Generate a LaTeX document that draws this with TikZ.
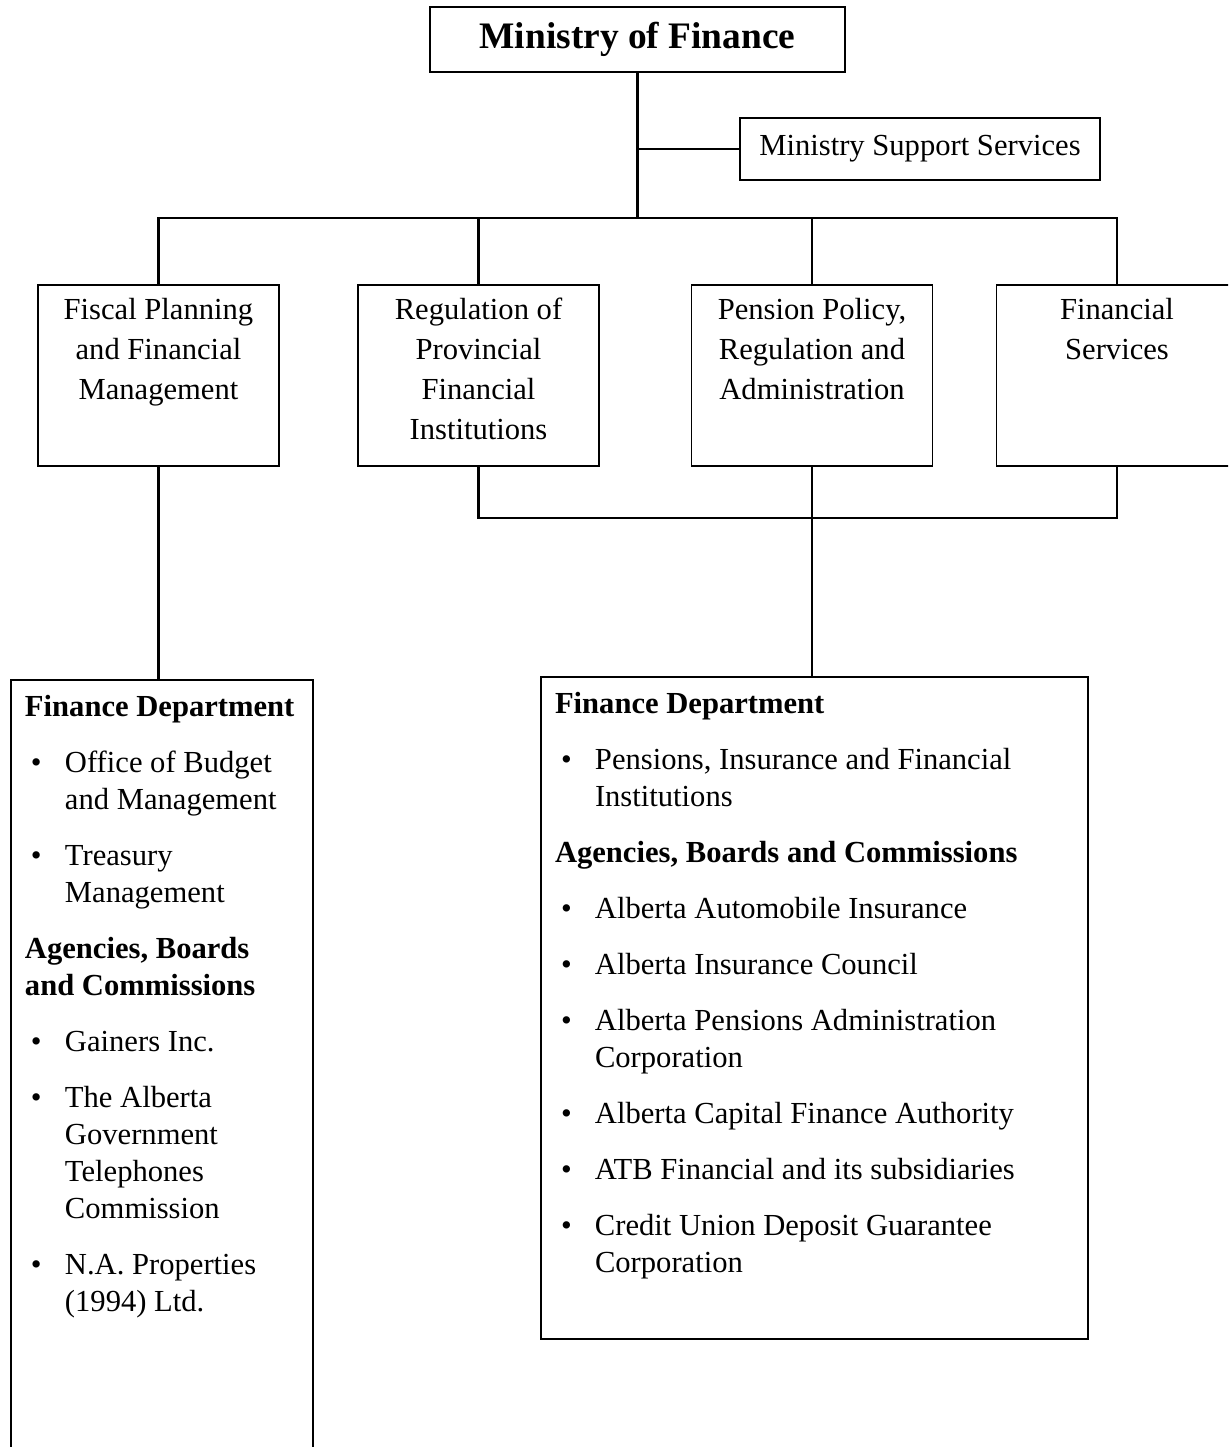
\documentclass[tikz,border=0pt]{standalone}
\usepackage{fontspec}
\setmainfont{Liberation Serif}
\newcommand{\orgtop}[1]{\rule{0pt}{#1}}
\newcommand{\orghead}[1]{\par\noindent\textbf{#1}\par}
\newcommand{\orgitem}[1]{\par\noindent\hangindent=20pt\hangafter=1\makebox[20pt][l]{\hspace{3pt}\textbullet}#1\par}
\newcommand{\unitbox}[1]{\parbox[c][90.5pt][t]{112.5pt}{\centering\orgtop{17pt}#1}}
\newcommand{\listbox}[3]{\parbox[c][#2][t]{#1}{\fontsize{15.3}{18.5}\selectfont\raggedright\parskip=9.5pt #3}}
\begin{document}
\begin{tikzpicture}[x=0.5pt, y=-0.5pt,
    unit/.style={draw, line width=0.6pt, inner xsep=4pt, inner ysep=0pt, outer sep=0pt, font=\fontsize{15.3}{20}\selectfont},
    listing/.style={draw, line width=0.6pt, inner xsep=7pt, inner ysep=0pt, outer sep=0pt},
    link/.style={line width=1.2pt}]
            \clip (0,0) rectangle (1228,1447);
            \node[draw, line width=0.6pt, minimum width=207.5pt, minimum height=32.5pt, outer sep=0pt, font=\fontsize{18.7}{22}\selectfont\bfseries] (fin) at (637.5,39.5) {Ministry of Finance};
            \node[draw, line width=0.6pt, minimum width=180pt, minimum height=31pt, outer sep=0pt, font=\fontsize{15.3}{20}\selectfont] (sup) at (920,149) {Ministry Support Services};
            \node[unit] (fis) at (158.5,375.5) {\unitbox{Fiscal Planning\\ and Financial\\ Management}};
            \node[unit] (reg) at (478.5,375.5) {\unitbox{Regulation of\\ Provincial\\ Financial\\ Institutions}};
            \node[unit] (pen) at (812,375.5) {\unitbox{Pension Policy,\\ Regulation and\\ Administration}};
            \node[unit] (fsv) at (1117,375.5) {\unitbox{Financial\\ Services}};
            \node[listing] (lft) at (162,1075) {\listbox{137pt}{395pt}{%
                \orghead{\orgtop{18pt}Finance Department}
                \orgitem{Office of Budget\newline and Management}
                \orgitem{Treasury\newline Management}
                \orghead{Agencies, Boards\newline and Commissions}
                \orgitem{Gainers Inc.}
                \orgitem{The Alberta\newline Government\newline Telephones\newline Commission}
                \orgitem{N.A. Properties\newline (1994) Ltd.}}};
            \node[listing] (rgt) at (814.5,1008) {\listbox{259.5pt}{331pt}{%
                \orghead{\orgtop{18pt}Finance Department}
                \orgitem{Pensions, Insurance and Financial\newline Institutions}
                \orghead{Agencies, Boards and Commissions}
                \orgitem{Alberta Automobile Insurance}
                \orgitem{Alberta Insurance Council}
                \orgitem{Alberta Pensions Administration\newline Corporation}
                \orgitem{Alberta Capital Finance Authority}
                \orgitem{ATB Financial and its subsidiaries}
                \orgitem{Credit Union Deposit Guarantee\newline Corporation}}};
            \coordinate (bus) at (637.5,218);
            \coordinate (tie) at (812,518);
            \draw[link] (fin) -- (bus);
            \draw[link] (bus |- sup.west) -- (sup);
            \draw[link] (fis.north) -- (fis.north |- bus) -- (fsv.north |- bus) -- (fsv.north);
            \draw[link] (reg) -- (reg.north |- bus);
            \draw[link] (pen) -- (pen.north |- bus);
            \draw[link] (reg.south) -- (reg.south |- tie) -- (fsv.south |- tie) -- (fsv.south);
            \draw[link] (pen) -- (pen.south |- rgt.north);
            \draw[link] (fis) -- (fis.south |- lft.north);
        \end{tikzpicture}
\end{document}
